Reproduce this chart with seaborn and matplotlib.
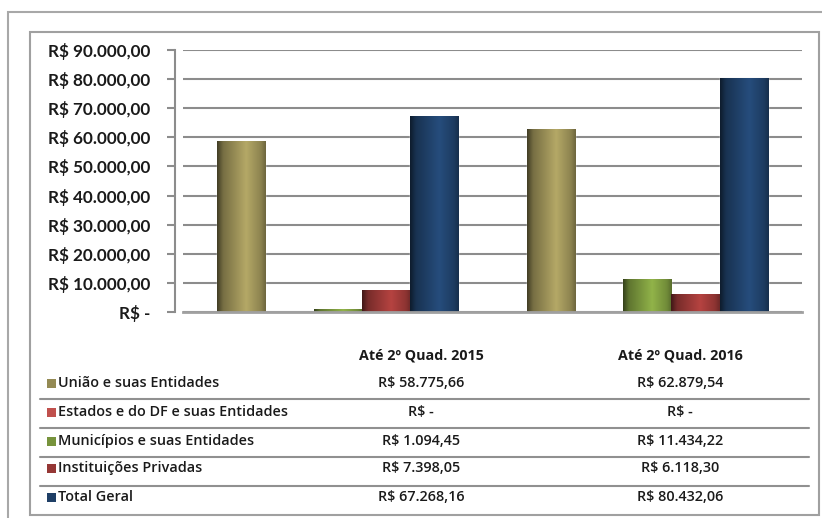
"""Recreate the 2015/2016 transfer bar chart with its data table."""

import matplotlib
matplotlib.use("Agg")
import matplotlib.pyplot as plt
import matplotlib.colors as mcolors
import numpy as np
import pandas as pd
import seaborn as sns
from matplotlib.lines import Line2D
from matplotlib.patches import Rectangle
from matplotlib.ticker import FuncFormatter

# data
periods = ["Até 2º Quad. 2015", "Até 2º Quad. 2016"]
series = ["União e suas Entidades", "Estados e do DF e suas Entidades",
          "Municípios e suas Entidades", "Instituições Privadas", "Total Geral"]
values_2015 = [58775.66, 0.0, 1094.45, 7398.05, 67268.16]
values_2016 = [62879.54, 0.0, 11434.22, 6118.30, 80432.06]
colors = ["#948A54", "#C0504D", "#77933C", "#953735", "#1F3F66"]


def brl(v: float) -> str:
    """Format a number as Brazilian currency."""
    if v == 0:
        return "R$ -"
    s = f"{v:,.2f}".replace(",", "X").replace(".", ",").replace("X", ".")
    return f"R$ {s}"


df = pd.DataFrame({
    "periodo": np.repeat(periods, len(series)),
    "serie": series * len(periods),
    "valor": values_2015 + values_2016,
})

sns.set_style("white")
plt.rcParams["font.family"] = ["Lato", "DejaVu Sans"]
TABLE_FONT = ["Open Sans", "Lato", "DejaVu Sans"]

W, H = 822, 518
fig = plt.figure(figsize=(W / 100, H / 100), dpi=100)


def fx(px):
    return px / W


def fy(py):
    return 1 - py / H


ax = fig.add_axes([fx(183), fy(312), fx(802) - fx(183), fy(50) - fy(312)])
sns.barplot(data=df, x="periodo", y="valor", hue="serie", palette=colors,
            width=0.78, gap=0, saturation=1, legend=False, ax=ax,
            errorbar=None)

ax.set_ylim(0, 90000)
ax.set_xlim(-0.5, 1.5)
ax.set_yticks(np.arange(0, 90001, 10000))
ax.yaxis.set_major_formatter(FuncFormatter(lambda v, _: brl(v)))
ax.yaxis.grid(True, color="#8c8c8c", lw=1.5)
ax.set_axisbelow(True)
ax.set_xlabel("")
ax.set_ylabel("")
ax.set_xticks([])
for side in ["top", "right"]:
    ax.spines[side].set_visible(False)
ax.spines["left"].set_position(("outward", 5.8))
ax.spines["left"].set_color("#8c8c8c")
ax.spines["left"].set_linewidth(1.5)
ax.spines["bottom"].set_color("#a0a0a0")
ax.spines["bottom"].set_linewidth(2)
ax.tick_params(axis="y", length=6, width=1.5, color="#8c8c8c", pad=12,
               labelsize=12.3, left=True)
for lab in ax.get_yticklabels():
    lab.set_fontweight("bold")
    lab.set_color("#1a1a1a")

# cylinder shading for the bars: dark left edge, light at ~60%, dim right
t = np.linspace(0, 1, 64)
shade = np.interp(t, [0, 0.12, 0.6, 0.9, 1], [0.45, 0.8, 1.22, 0.95, 0.75])
for patch in list(ax.patches):
    h = patch.get_height()
    if h <= 0:
        continue
    base = np.array(mcolors.to_rgb(patch.get_facecolor()))
    grad = np.clip(base[None, :] * shade[:, None], 0, 1)[None, :, :]
    x0 = patch.get_x()
    im = ax.imshow(grad, extent=[x0, x0 + patch.get_width(), 0, h],
                   aspect="auto", zorder=patch.get_zorder() + 0.1,
                   interpolation="bilinear")
    im.set_clip_path(patch)
ax.set_xlim(-0.5, 1.5)
ax.set_ylim(0, 90000)

# frames
fig.add_artist(Rectangle((fx(8), fy(600)), fx(830) - fx(8), fy(12) - fy(600),
                         transform=fig.transFigure, fill=False,
                         ec="#a8a8a8", lw=1.5))
fig.add_artist(Rectangle((fx(30), fy(515)), fx(819) - fx(30), fy(32) - fy(515),
                         transform=fig.transFigure, fill=False,
                         ec="#a0a0a0", lw=1.5))

# data table
col_x = [421, 680]
row_y = [383, 412, 441, 468, 497]
for cx, per in zip(col_x, periods):
    fig.text(fx(cx), fy(355), per, ha="center", va="center", family=TABLE_FONT,
             fontsize=10.3, fontweight="bold", color="#1a1a1a")
for i, (name, col) in enumerate(zip(series, colors)):
    y = row_y[i]
    fig.add_artist(Rectangle((fx(47), fy(y + 4.5)), fx(9), 9 / H,
                             transform=fig.transFigure, color=col, lw=0))
    fig.text(fx(58), fy(y), name, ha="left", va="center", family=TABLE_FONT,
             fontsize=10.4, fontweight="semibold", color="#1a1a1a")
    for cx, vals in zip(col_x, [values_2015, values_2016]):
        fig.text(fx(cx), fy(y), brl(vals[i]), ha="center", va="center",
                 family=TABLE_FONT, fontsize=10.4, fontweight="semibold",
                 color="#1a1a1a")
for ly in [399, 428, 457, 486]:
    fig.add_artist(Line2D([fx(40), fx(809)], [fy(ly), fy(ly)],
                          transform=fig.transFigure, color="#909090", lw=1.5))

fig.savefig("out.png", dpi=100)
